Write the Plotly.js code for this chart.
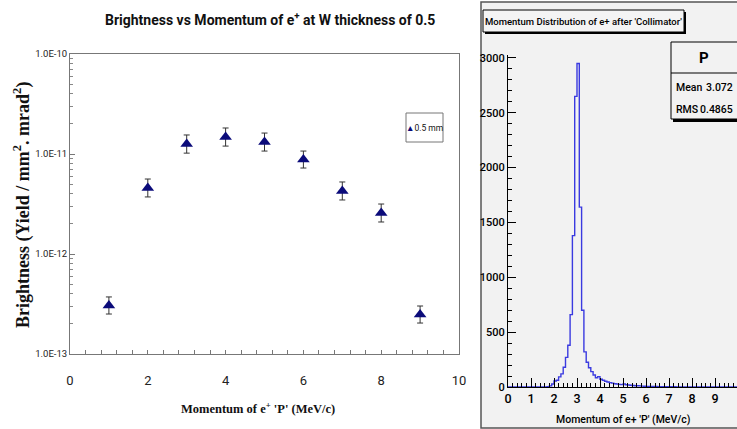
<!DOCTYPE html>
<html><head><meta charset="utf-8">
<script src="https://cdn.plot.ly/plotly-3.0.1.min.js"></script>
<style>html,body{margin:0;padding:0;background:#fff}#c{width:737px;height:429px}</style>
</head><body><div id="c"></div>
<script>
// ---- Left chart data: brightness vs momentum ----
const momentum   = [1, 2, 3, 4, 5, 6, 7, 8, 9];
const brightness = [3.05e-13, 4.57e-12, 1.26e-11, 1.48e-11, 1.32e-11, 8.8e-12, 4.27e-12, 2.57e-12, 2.48e-13];
const errUpper   = [3.72e-13, 5.62e-12, 1.55e-11, 1.82e-11, 1.62e-11, 1.07e-11, 5.25e-12, 3.16e-12, 3.02e-13];
const errLower   = [2.51e-13, 3.72e-12, 1.02e-11, 1.20e-11, 1.07e-11, 7.24e-12, 3.47e-12, 2.09e-12, 2.04e-13];
const yTickVals  = [1e-13, 1e-12, 1e-11, 1e-10];
const yTickText  = ['1.0E-13', '1.0E-12', '1.0E-11', '1.0E-10'];
const seriesName = '0.5 mm';

// ---- Right chart data: momentum distribution histogram (bin width 0.1, 0..10) ----
const histLow = 0, histWidth = 0.1;
const histCounts = [
  0,0,0,0,0,0,0,0,0,0,
  0,0,0,0,0,0,1,3,10,28,
  55,62,92,120,180,270,380,660,1380,2650,
  2950,1640,700,320,225,175,140,110,85,95,
  70,62,52,46,40,35,30,27,24,22,
  28,20,18,16,14,12,11,10,8,7,
  6,5,5,4,4,3,3,3,2,2,
  2,2,2,1,1,1,1,1,1,1,
  1,1,1,1,0,1,1,0,1,0,
  1,0,0,1,0,0,1,0,0,0
];
const statName = 'P', statMean = '3.072', statRMS = '0.4865';

const W = 737, H = 429;
const px = x => x / W, py = y => 1 - y / H;

// step outline
const edges = [], steps = [];
for (let i = 0; i <= histCounts.length; i++) {
  edges.push(+(histLow + i * histWidth).toFixed(4));
  steps.push(histCounts[Math.min(i, histCounts.length - 1)]);
}

const minorLog = [];
for (let e = -13; e < -10; e++) for (let m = 2; m <= 9; m++) minorLog.push(m * Math.pow(10, e));

const narrow = 'Roboto, "Liberation Sans", Arial, sans-serif';
const serif = '"Liberation Serif", "Times New Roman", serif';

const traces = [
  {
    x: momentum, y: brightness, type: 'scatter', mode: 'markers', name: seriesName,
    xaxis: 'x', yaxis: 'y', showlegend: false,
    marker: {symbol: 'triangle-up', size: 11, color: '#0b0b7a'},
    error_y: {type: 'data', symmetric: false,
      array: brightness.map((v, i) => errUpper[i] - v),
      arrayminus: brightness.map((v, i) => v - errLower[i]),
      color: '#333', thickness: 1, width: 3}
  },
  {
    x: edges, y: steps, type: 'scatter', mode: 'lines', xaxis: 'x2', yaxis: 'y2',
    line: {shape: 'hv', color: '#3a3ae0', width: 1.4}, showlegend: false
  }
];

const shapes = [
  {type: 'rect', xref: 'paper', yref: 'paper', x0: px(481), x1: px(745), y0: py(428), y1: py(2),
   fillcolor: '#f2f2f2', line: {color: '#555', width: 1.5}, layer: 'below'},
  {type: 'rect', xref: 'paper', yref: 'paper', x0: px(485), x1: px(686), y0: py(34), y1: py(12),
   fillcolor: '#000', line: {width: 0}, layer: 'below'},
  {type: 'rect', xref: 'paper', yref: 'paper', x0: px(483), x1: px(684), y0: py(32), y1: py(10),
   fillcolor: '#f4f4f4', line: {color: '#000', width: 1}, layer: 'below'},
  {type: 'rect', xref: 'paper', yref: 'paper', x0: px(673), x1: px(745), y0: py(122), y1: py(44),
   fillcolor: '#000', line: {width: 0}, layer: 'above'},
  {type: 'rect', xref: 'paper', yref: 'paper', x0: px(671), x1: px(745), y0: py(119), y1: py(42),
   fillcolor: '#f2f2f2', line: {color: '#000', width: 1}, layer: 'above'},
  {type: 'line', xref: 'paper', yref: 'paper', x0: px(671), x1: px(745), y0: py(73), y1: py(73),
   line: {color: '#000', width: 1}, layer: 'above'},
  {type: 'rect', xref: 'paper', yref: 'paper', x0: px(406), x1: px(443), y0: py(142), y1: py(113),
   fillcolor: '#fff', line: {color: '#777', width: 1}, layer: 'above'}
];

const annotations = [
  {text: 'Brightness vs Momentum of e<sup>+</sup> at W thickness of 0.5', xref: 'paper', yref: 'paper',
   x: px(270), y: py(19), xanchor: 'center', yanchor: 'middle', showarrow: false,
   font: {family: narrow, size: 14, color: '#111', weight: 'bold'}},
  {text: 'Brightness (Yield / mm<sup>2</sup>. mrad<sup>2</sup>)', xref: 'paper', yref: 'paper',
   x: px(22), y: py(205), xanchor: 'center', yanchor: 'middle', textangle: -90, showarrow: false,
   font: {family: serif, size: 18, color: '#111', weight: 'bold'}},
  {text: "Momentum of e<sup>+</sup> 'P' (MeV/c)", xref: 'paper', yref: 'paper',
   x: px(258), y: py(408), xanchor: 'center', yanchor: 'middle', showarrow: false,
   font: {family: serif, size: 12.5, color: '#111', weight: 'bold'}},
  {text: '<span style="color:#0b0b7a">▲</span>' + seriesName, xref: 'paper', yref: 'paper',
   x: px(424.5), y: py(127.5), xanchor: 'center', yanchor: 'middle', showarrow: false,
   font: {family: narrow, size: 8.5, color: '#111'}},
  {text: "Momentum Distribution of e+ after 'Collimator'", xref: 'paper', yref: 'paper',
   x: px(583), y: py(21), xanchor: 'center', yanchor: 'middle', showarrow: false,
   font: {family: narrow, size: 9.5, color: '#000', weight: 500}},
  {text: statName, xref: 'paper', yref: 'paper', x: px(704), y: py(58), xanchor: 'center', yanchor: 'middle',
   showarrow: false, font: {family: narrow, size: 15, color: '#000', weight: 'bold'}},
  {text: 'Mean', xref: 'paper', yref: 'paper', x: px(674), y: py(88), xanchor: 'left', yanchor: 'middle',
   showarrow: false, font: {family: narrow, size: 10.5, color: '#000', weight: 500}},
  {text: statMean, xref: 'paper', yref: 'paper', x: px(735), y: py(88), xanchor: 'right', yanchor: 'middle',
   showarrow: false, font: {family: narrow, size: 10.5, color: '#000', weight: 500}},
  {text: 'RMS', xref: 'paper', yref: 'paper', x: px(674), y: py(110), xanchor: 'left', yanchor: 'middle',
   showarrow: false, font: {family: narrow, size: 10.5, color: '#000', weight: 500}},
  {text: statRMS, xref: 'paper', yref: 'paper', x: px(735), y: py(110), xanchor: 'right', yanchor: 'middle',
   showarrow: false, font: {family: narrow, size: 10.5, color: '#000', weight: 500}},
  {text: "Momentum of e+ 'P' (MeV/c)", xref: 'paper', yref: 'paper',
   x: px(623), y: py(419), xanchor: 'center', yanchor: 'middle', showarrow: false,
   font: {family: narrow, size: 10.5, color: '#000', weight: 500}}
];

const layout = {
  width: W, height: H, margin: {l: 0, r: 0, t: 0, b: 0, pad: 0},
  paper_bgcolor: '#fff', plot_bgcolor: 'rgba(0,0,0,0)', showlegend: false,
  xaxis: {domain: [px(70), px(459)], range: [0, 10], anchor: 'y',
    showline: true, linecolor: '#777', linewidth: 1, mirror: true, showgrid: false, zeroline: false,
    tickmode: 'array', tickvals: [0, 2, 4, 6, 8, 10], ticks: 'inside', ticklen: 4, tickcolor: '#777',
    ticklabelstandoff: 14,
    minor: {dtick: 0.4, ticks: 'inside', ticklen: 4, tickcolor: '#777', showgrid: false},
    tickfont: {family: narrow, size: 13, color: '#222'}},
  yaxis: {domain: [py(354), py(54)], type: 'log', range: [-13, -10], anchor: 'x',
    showline: true, linecolor: '#777', linewidth: 1, mirror: true, showgrid: false, zeroline: false,
    tickmode: 'array', tickvals: yTickVals, ticktext: yTickText, ticks: 'inside', ticklen: 5, tickcolor: '#777',
    minor: {tickmode: 'array', tickvals: minorLog, ticks: 'inside', ticklen: 3, tickcolor: '#888', showgrid: false},
    tickfont: {family: narrow, size: 9.5, color: '#222'}},
  xaxis2: {domain: [px(508), 1], range: [0, (W - 508) / 23], anchor: 'y2',
    showline: true, linecolor: '#000', linewidth: 1, showgrid: false, zeroline: false,
    dtick: 1, tick0: 0, ticks: 'inside', ticklen: 9, tickcolor: '#000',
    minor: {dtick: 0.2, ticks: 'inside', ticklen: 4, tickcolor: '#000', showgrid: false},
    tickfont: {family: narrow, size: 12.5, color: '#000', weight: 500}},
  yaxis2: {domain: [py(387), py(55)], range: [0, 3027], anchor: 'x2',
    showline: true, linecolor: '#000', linewidth: 1, showgrid: false, zeroline: false,
    dtick: 500, tick0: 0, ticks: 'inside', ticklen: 8, tickcolor: '#000',
    minor: {dtick: 100, ticks: 'inside', ticklen: 4, tickcolor: '#000', showgrid: false},
    tickfont: {family: narrow, size: 11, color: '#000', weight: 500}},
  shapes: shapes,
  annotations: annotations
};

Plotly.newPlot('c', traces, layout, {displayModeBar: false, staticPlot: true});
</script>
</body></html>
